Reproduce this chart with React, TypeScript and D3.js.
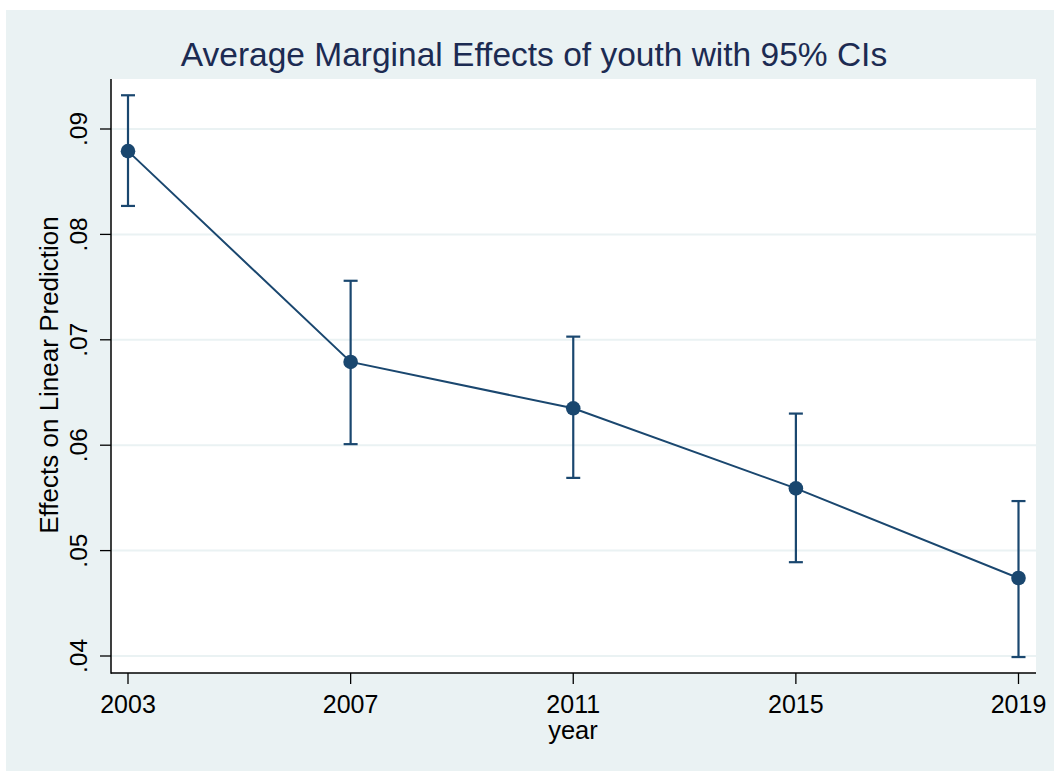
import React from "react";
import * as d3 from "d3";

// Average marginal effects by survey year, with 95% confidence bounds
const years = [2003, 2007, 2011, 2015, 2019];
const margins = [0.0879, 0.0679, 0.0635, 0.0559, 0.0474];
const ciLower = [0.0827, 0.0601, 0.0569, 0.0489, 0.0399];
const ciUpper = [0.0932, 0.0756, 0.0703, 0.0630, 0.0547];
const yTicks = [0.04, 0.05, 0.06, 0.07, 0.08, 0.09];
const yTickLabels = [".04", ".05", ".06", ".07", ".08", ".09"];
const xTicks = [2003, 2007, 2011, 2015, 2019];

const W = 1054;
const H = 771;
const plot = { left: 111, top: 79, right: 1036, bottom: 673 };
const navy = "#1a476f";
const bg = "#eaf2f3";
const font = "'Liberation Sans', Arial, Helvetica, sans-serif";

export default function App() {
  const x = d3.scaleLinear().domain([2003, 2019]).range([128, 1018.5]);
  const y = d3.scaleLinear().domain([0.04, 0.09]).range([656, 129]);

  const line = d3
    .line<number>()
    .x((_, i) => x(years[i]))
    .y((d) => y(d));

  const capHalf = 7;

  return (
    <svg
      width={W}
      height={H}
      style={{ position: "absolute", left: 0, top: 0, background: "#fff" }}
    >
      <rect x={6} y={10} width={W - 6} height={H - 10} fill={bg} />
      <rect
        x={plot.left}
        y={plot.top}
        width={plot.right - plot.left}
        height={plot.bottom - plot.top}
        fill="#fff"
      />

      {/* horizontal grid */}
      {yTicks.map((t) => (
        <line
          key={"g" + t}
          x1={plot.left}
          x2={plot.right}
          y1={y(t)}
          y2={y(t)}
          stroke={bg}
          strokeWidth={2}
        />
      ))}

      {/* axes */}
      <line x1={plot.left} x2={plot.left} y1={plot.top} y2={plot.bottom + 0.75} stroke="#000" strokeWidth={1.5} />
      <line x1={plot.left} x2={plot.right} y1={plot.bottom} y2={plot.bottom} stroke="#000" strokeWidth={1.5} />

      {yTicks.map((t, i) => (
        <g key={"yt" + t}>
          <line x1={plot.left - 11} x2={plot.left} y1={y(t)} y2={y(t)} stroke="#000" strokeWidth={1.3} />
          <text
            transform={`translate(87,${y(t)}) rotate(-90)`}
            textAnchor="middle"
            fontFamily={font}
            fontSize={24.5}
            fill="#000"
          >
            {yTickLabels[i]}
          </text>
        </g>
      ))}

      {xTicks.map((t) => (
        <g key={"xt" + t}>
          <line x1={x(t)} x2={x(t)} y1={plot.bottom} y2={plot.bottom + 11} stroke="#000" strokeWidth={1.3} />
          <text
            x={x(t)}
            y={713}
            textAnchor="middle"
            fontFamily={font}
            fontSize={25}
            fill="#000"
          >
            {t}
          </text>
        </g>
      ))}

      {/* axis titles */}
      <text
        transform="translate(58,375) rotate(-90)"
        textAnchor="middle"
        fontFamily={font}
        fontSize={26}
        fill="#000"
      >
        Effects on Linear Prediction
      </text>
      <text x={573} y={739} textAnchor="middle" fontFamily={font} fontSize={25.5} fill="#000">
        year
      </text>

      {/* title */}
      <text x={534} y={66} textAnchor="middle" fontFamily={font} fontSize={33.5} fill="#1c2b52">
        Average Marginal Effects of youth with 95% CIs
      </text>

      {/* confidence intervals */}
      {years.map((yr, i) => (
        <g key={"ci" + yr} stroke={navy} strokeWidth={2.2}>
          <line x1={x(yr)} x2={x(yr)} y1={y(ciLower[i])} y2={y(ciUpper[i])} />
          <line x1={x(yr) - capHalf} x2={x(yr) + capHalf} y1={y(ciLower[i])} y2={y(ciLower[i])} />
          <line x1={x(yr) - capHalf} x2={x(yr) + capHalf} y1={y(ciUpper[i])} y2={y(ciUpper[i])} />
        </g>
      ))}

      {/* connecting line and markers */}
      <path d={line(margins) ?? ""} fill="none" stroke={navy} strokeWidth={2} />
      {years.map((yr, i) => (
        <circle key={"m" + yr} cx={x(yr)} cy={y(margins[i])} r={7.3} fill={navy} />
      ))}
    </svg>
  );
}
